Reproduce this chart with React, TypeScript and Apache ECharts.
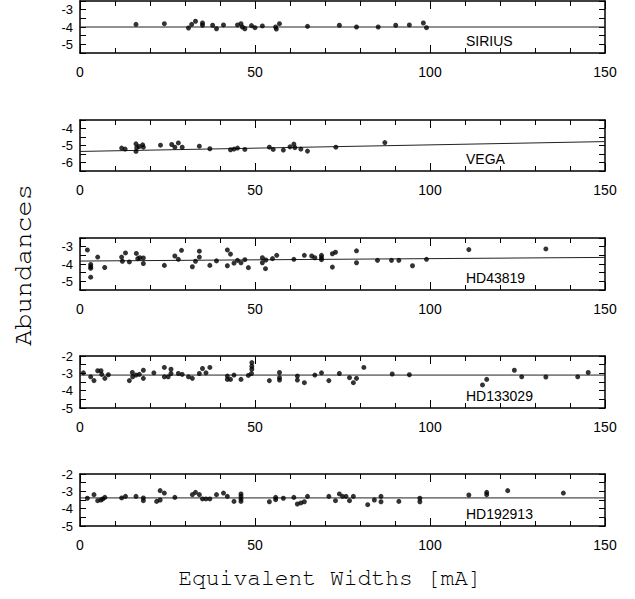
import React, { useEffect, useRef } from "react";
import * as echarts from "echarts";

const starNames = ["SIRIUS", "VEGA", "HD43819", "HD133029", "HD192913"];
const xTickLabels = [0, 50, 100, 150];
const xTitle = "Equivalent Widths [mA]";
const yTitle = "Abundances";

const siriusX = [16.0, 24.1, 31.0, 31.9, 33.0, 35.0, 35.0, 37.9, 39.0, 41.0, 45.0, 46.0, 46.4, 47.1, 49.0, 50.0, 52.1, 55.9, 56.1, 57.0, 65.0, 74.1, 79.0, 85.2, 90.2, 94.1, 98.1, 99.0];
const siriusY = [-3.85, -3.81, -4.06, -3.85, -3.67, -3.77, -3.9, -3.9, -4.1, -3.88, -3.88, -3.81, -4.0, -4.1, -3.92, -4.04, -3.94, -4.0, -4.12, -3.81, -3.96, -3.9, -4.0, -4.0, -3.9, -3.88, -3.77, -4.04];

const vegaX = [11.9, 12.9, 16.0, 16.2, 16.0, 16.9, 17.9, 18.1, 23.0, 26.2, 27.1, 28.1, 29.2, 34.1, 37.1, 43.0, 44.0, 45.0, 47.1, 54.1, 55.2, 58.1, 60.0, 61.1, 61.4, 63.1, 65.0, 73.1, 87.1];
const vegaY = [-5.15, -5.21, -4.9, -5.13, -5.35, -5.06, -4.96, -5.1, -4.98, -4.94, -5.1, -4.85, -5.1, -5.04, -5.19, -5.25, -5.21, -5.15, -5.23, -5.1, -5.23, -5.27, -5.08, -4.92, -5.13, -5.21, -5.33, -5.1, -4.83];

const hd43819X = [2.1, 3.05, 3.05, 3.05, 3.05, 5.05, 7.05, 11.9, 12.1, 13.0, 14.1, 16.1, 16.5, 17.1, 18.1, 18.1, 24.1, 27.1, 28.1, 29.0, 32.1, 33.0, 34.1, 34.1, 37.1, 39.0, 42.1, 42.1, 43.0, 44.0, 45.0, 46.0, 47.1, 48.1, 52.1, 52.1, 53.0, 53.1, 55.0, 56.2, 61.1, 64.1, 66.2, 67.1, 69.0, 69.0, 69.0, 72.1, 72.1, 73.0, 79.0, 79.0, 85.0, 89.0, 91.1, 95.0, 99.0, 111.1, 133.1];
const hd43819Y = [-3.19, -4.03, -4.16, -4.25, -4.76, -3.6, -4.2, -3.6, -3.84, -3.36, -3.88, -3.39, -3.69, -3.64, -3.65, -3.97, -4.08, -3.54, -3.73, -3.21, -4.16, -3.84, -3.6, -3.26, -4.08, -3.82, -3.19, -4.1, -3.43, -3.95, -3.79, -3.93, -3.75, -4.21, -3.64, -3.93, -4.27, -3.77, -3.69, -3.5, -3.73, -3.5, -3.54, -3.64, -3.5, -3.64, -3.75, -3.41, -4.18, -3.32, -3.24, -3.93, -3.79, -3.79, -3.79, -4.1, -3.73, -3.17, -3.13];

const hd133029X = [0.95, 3.05, 4.0, 5.05, 6.0, 6.2, 7.1, 8.1, 14.1, 14.95, 15.05, 16.0, 16.95, 18.1, 18.1, 21.1, 24.1, 24.1, 25.2, 26.0, 26.0, 28.1, 29.2, 31.0, 32.1, 34.1, 35.0, 36.0, 37.1, 42.1, 42.1, 43.0, 44.0, 46.0, 48.1, 49.0, 49.1, 49.1, 49.1, 54.1, 57.0, 57.0, 57.0, 62.1, 62.1, 64.1, 67.1, 69.0, 71.1, 74.1, 77.0, 78.1, 79.0, 81.1, 89.2, 94.1, 115.0, 116.2, 124.1, 126.2, 133.1, 142.2, 145.2];
const hd133029Y = [-2.97, -3.2, -3.42, -2.85, -2.85, -3.06, -3.29, -3.08, -3.42, -2.95, -3.2, -3.1, -3.06, -2.82, -3.29, -2.97, -2.66, -3.2, -3.2, -2.76, -3.01, -3.01, -3.06, -3.2, -3.29, -3.01, -2.72, -2.97, -2.66, -3.16, -3.35, -3.35, -3.1, -3.35, -3.12, -3.01, -2.76, -2.59, -2.38, -3.42, -2.95, -3.25, -3.39, -3.16, -3.39, -3.54, -3.1, -2.97, -3.42, -3.01, -3.25, -3.54, -3.29, -2.66, -3.04, -3.08, -3.67, -3.35, -2.82, -3.2, -3.21, -3.2, -2.95];

const hd192913X = [2.1, 4.0, 5.05, 6.0, 6.5, 7.1, 11.9, 13.0, 16.0, 18.1, 18.1, 21.9, 22.9, 22.9, 24.1, 27.1, 32.1, 33.0, 34.1, 35.0, 36.0, 37.1, 39.0, 41.0, 42.1, 44.0, 46.0, 46.0, 46.0, 46.0, 54.1, 55.9, 55.9, 58.1, 61.1, 62.1, 63.1, 64.1, 65.0, 71.1, 73.0, 74.1, 75.0, 76.0, 77.0, 78.1, 82.2, 84.1, 86.0, 86.0, 91.1, 97.1, 97.1, 111.1, 116.2, 116.2, 122.2, 138.1];
const hd192913Y = [-3.4, -3.19, -3.54, -3.5, -3.44, -3.35, -3.38, -3.29, -3.29, -3.38, -3.54, -3.58, -3.5, -2.96, -3.1, -3.35, -3.19, -3.06, -3.19, -3.44, -3.44, -3.44, -3.19, -3.1, -3.29, -3.58, -3.15, -3.29, -3.44, -3.58, -3.6, -3.35, -3.48, -3.4, -3.35, -3.73, -3.67, -3.6, -3.29, -3.29, -3.54, -3.15, -3.29, -3.29, -3.54, -3.29, -3.77, -3.5, -3.29, -3.6, -3.58, -3.4, -3.6, -3.21, -3.06, -3.19, -2.96, -3.1];

const allX = [siriusX, vegaX, hd43819X, hd133029X, hd192913X];
const allY = [siriusY, vegaY, hd43819Y, hd133029Y, hd192913Y];
const fitAt0 = [-4.0, -5.35, -3.83, -3.1, -3.38];
const fitAt150 = [-4.0, -4.77, -3.62, -3.1, -3.38];
const yMin = [-5.5, -6.5, -5.5, -5, -5];
const yMax = [-2.5, -3.5, -2.5, -2, -2];

const gridTop = [1, 120, 238, 356, 474];
const gridHeight = [52, 51, 52, 52, 52];

const titleFont = "'Nimbus Mono PS', 'Nimbus Mono L', FreeMono, 'Courier New', Courier, 'Liberation Mono', monospace";

export default function App() {
  const ref = useRef<HTMLDivElement>(null);
  useEffect(() => {
    if (!ref.current) return;
    const chart = echarts.init(ref.current, null, { renderer: "svg" });
    const lineStyle = { color: "#000", width: 1.5 };
    const grid: any[] = [];
    const xAxis: any[] = [];
    const yAxis: any[] = [];
    const series: any[] = [];
    const graphic: any[] = [];
    starNames.forEach((name, i) => {
      grid.push({ left: 80, right: 30, top: gridTop[i], height: gridHeight[i], show: false });
      const xBase = {
        gridIndex: i,
        type: "value",
        min: xTickLabels[0],
        max: xTickLabels[xTickLabels.length - 1],
        interval: 50,
        axisLine: { show: true, onZero: false, lineStyle },
        axisTick: { show: true, inside: true, length: 8, lineStyle: { color: "#000", width: 1 } },
        minorTick: { show: true, splitNumber: 5, length: 5, lineStyle: { color: "#000", width: 1 } },
        splitLine: { show: false },
      };
      xAxis.push({
        ...xBase,
        position: "bottom",
        axisLabel: { show: true, margin: 12, fontSize: 14, color: "#000", fontFamily: "Liberation Sans" },
      });
      xAxis.push({ ...xBase, position: "top", axisLabel: { show: false } });
      const yBase = {
        gridIndex: i,
        type: "value",
        min: yMin[i],
        max: yMax[i],
        interval: 0.5,
        axisLine: { show: true, onZero: false, lineStyle },
        axisTick: { show: true, inside: true, length: 6, lineStyle: { color: "#000", width: 1 } },
        splitLine: { show: false },
      };
      yAxis.push({
        ...yBase,
        position: "left",
        axisLabel: {
          show: true,
          margin: 7,
          fontSize: 13,
          color: "#000",
          fontFamily: "Liberation Sans",
          showMinLabel: true,
          showMaxLabel: true,
          formatter: (v: number) => (Math.abs(v - Math.round(v)) < 1e-6 ? String(Math.round(v)) : ""),
        },
      });
      yAxis.push({ ...yBase, position: "right", axisLabel: { show: false } });
      series.push({
        type: "line",
        xAxisIndex: i * 2,
        yAxisIndex: i * 2,
        data: [
          [xTickLabels[0], fitAt0[i]],
          [xTickLabels[xTickLabels.length - 1], fitAt150[i]],
        ],
        symbol: "none",
        lineStyle: { color: "#222", width: 1 },
        z: 2,
      });
      series.push({
        type: "scatter",
        xAxisIndex: i * 2,
        yAxisIndex: i * 2,
        data: allX[i].map((x, k) => [x, allY[i][k]]),
        symbol: "circle",
        symbolSize: 5,
        itemStyle: { color: "#000" },
        z: 3,
      });
      graphic.push({
        type: "text",
        left: 466,
        top: gridTop[i] + gridHeight[i] - 19,
        style: { text: name, font: "14px 'Liberation Sans'", fill: "#000" },
      });
    });
    graphic.push({
      type: "text",
      x: 330,
      y: 578,
      style: { text: xTitle, fontSize: 23, fontFamily: titleFont, fill: "#000", align: "center", verticalAlign: "middle" },
    });
    graphic.push({
      type: "text",
      x: 22,
      y: 265,
      rotation: Math.PI / 2,
      style: { text: yTitle, fontSize: 27, fontFamily: titleFont, fill: "#000", align: "center", verticalAlign: "middle" },
    });
    chart.setOption({ animation: false, grid, xAxis, yAxis, series, graphic });
    return () => chart.dispose();
  }, []);
  return <div ref={ref} style={{ position: "fixed", left: 0, top: 0, width: 635, height: 599, background: "#fff" }} />;
}
